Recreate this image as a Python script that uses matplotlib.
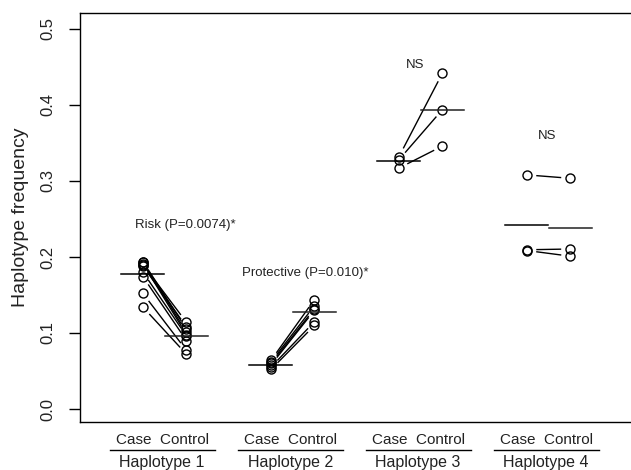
import numpy as np
import matplotlib
matplotlib.use("Agg")
from matplotlib import pyplot as plt
from matplotlib import transforms

plt.rcParams['font.family'] = ['Liberation Sans', 'DejaVu Sans']

groups = ["Haplotype 1", "Haplotype 2", "Haplotype 3", "Haplotype 4"]
hap1_case = [0.194, 0.193, 0.191, 0.190, 0.188, 0.180, 0.174, 0.152, 0.134]
hap1_control = [0.105, 0.101, 0.098, 0.114, 0.108, 0.096, 0.090, 0.077, 0.072]
hap2_case = [0.064, 0.062, 0.060, 0.058, 0.055, 0.052]
hap2_control = [0.144, 0.136, 0.132, 0.130, 0.115, 0.110]
hap3_case = [0.332, 0.328, 0.317]
hap3_control = [0.442, 0.394, 0.346]
hap4_case = [0.308, 0.2095, 0.2085]
hap4_control = [0.3035, 0.2105, 0.201]
labels = ["Risk (P=0.0074)*", "Protective (P=0.010)*", "NS", "NS"]

cases = [hap1_case, hap2_case, hap3_case, hap4_case]
controls = [hap1_control, hap2_control, hap3_control, hap4_control]

fig = plt.figure(figsize=(6.31, 4.70), dpi=100)
ax = fig.add_axes([80 / 631, 48 / 470, 560 / 631, 409 / 470])
ax.set_xlim(-0.492, 3.883)
ax.set_ylim(-0.0171, 0.521)

gap = 0.34      # case -> control offset
shrink = 10     # px trimmed from each end of the pairing lines
txt = "#222222"

for g in range(4):
    xc, xk = g, g + gap
    ca = np.array(cases[g])
    co = np.array(controls[g])
    # pairing segments, trimmed in pixel space
    p0 = ax.transData.transform(np.column_stack([np.full(len(ca), xc), ca]))
    p1 = ax.transData.transform(np.column_stack([np.full(len(co), xk), co]))
    d = p1 - p0
    u = d / np.hypot(d[:, 0], d[:, 1])[:, None]
    a = ax.transData.inverted().transform(p0 + u * shrink)
    b = ax.transData.inverted().transform(p1 - u * shrink)
    for s, e in zip(a, b):
        ax.plot([s[0], e[0]], [s[1], e[1]], color="k", lw=1.0)
    ax.plot(np.full(len(ca), xc), ca, "o", mfc="none", mec="k", ms=6.5, mew=1.0)
    ax.plot(np.full(len(co), xk), co, "o", mfc="none", mec="k", ms=6.5, mew=1.0)
    # mean lines
    ax.plot([xc - 0.168, xc + 0.168], [ca.mean()] * 2, color="k", lw=1.1)
    ax.plot([xk - 0.168, xk + 0.168], [co.mean()] * 2, color="#222222", lw=1.1)

# annotations
ann_x = [0.33, 1.27, 2.13, 3.16]
ann_y = [0.242, 0.179, 0.453, 0.359]
for lab, x, y in zip(labels, ann_x, ann_y):
    ax.text(x, y, lab, ha="center", va="center", fontsize=9.5, color=txt)

# group labels below axis
trans = transforms.blended_transform_factory(ax.transData, ax.transAxes)
for g, name in enumerate(groups):
    cx = g + 0.15
    ax.text(cx, -0.044, "Case  Control", transform=trans, ha="center", va="center",
            fontsize=11, color=txt)
    ax.plot([cx - 0.41, cx + 0.41], [-0.0685, -0.0685], transform=trans, color="k",
            lw=1.0, clip_on=False)
    ax.text(cx, -0.098, name, transform=trans, ha="center", va="center",
            fontsize=11.5, color=txt)

ax.set_xticks([])
ax.set_yticks([0.0, 0.1, 0.2, 0.3, 0.4, 0.5])
ax.set_yticklabels(["0.0", "0.1", "0.2", "0.3", "0.4", "0.5"], rotation=90, va="center")
ax.tick_params(axis="y", length=8, width=1.0, labelsize=12, pad=10, labelcolor=txt)
ax.set_ylabel("Haplotype frequency", fontsize=14, labelpad=8, color=txt)
for sp in ax.spines.values():
    sp.set_linewidth(1.0)
ax.spines["right"].set_visible(False)

fig.savefig("out.png", dpi=100)
